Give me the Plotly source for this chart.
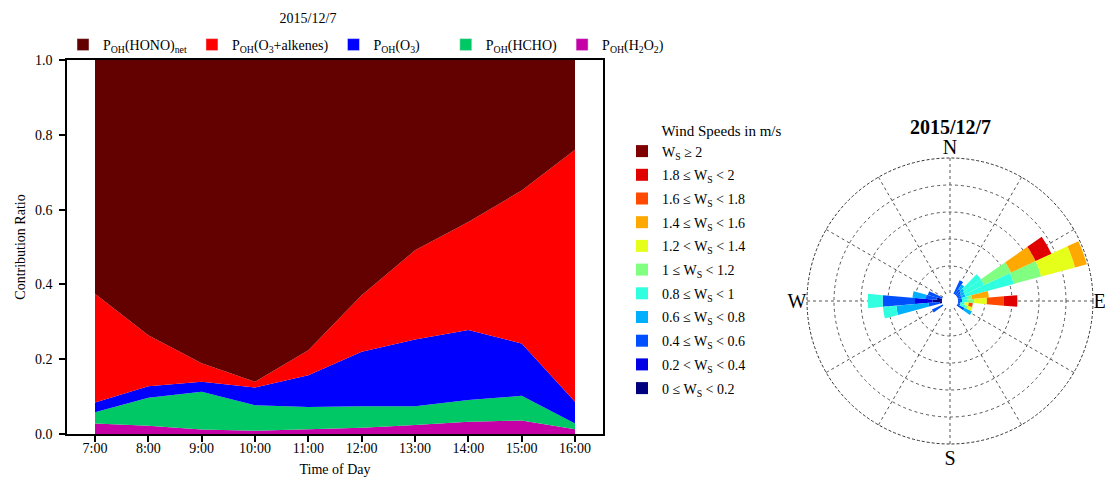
import plotly.graph_objects as go

# ---------------- Area chart data ----------------
hours = ["7:00", "8:00", "9:00", "10:00", "11:00", "12:00", "13:00", "14:00", "15:00", "16:00"]
p_h2o2 = [0.028, 0.022, 0.012, 0.009, 0.013, 0.017, 0.024, 0.033, 0.036, 0.013]
p_hcho = [0.030, 0.075, 0.101, 0.068, 0.059, 0.057, 0.050, 0.058, 0.066, 0.015]
p_o3 = [0.026, 0.031, 0.027, 0.047, 0.085, 0.146, 0.179, 0.187, 0.140, 0.058]
p_o3_alkenes = [0.291, 0.136, 0.049, 0.016, 0.067, 0.151, 0.238, 0.289, 0.409, 0.674]
p_hono = [0.625, 0.736, 0.811, 0.860, 0.776, 0.629, 0.509, 0.433, 0.349, 0.240]

NB = "\u00a0"
area_names = ["P<sub>OH</sub>(H<sub>2</sub>O<sub>2</sub>)", "P<sub>OH</sub>(HCHO)",
              "P<sub>OH</sub>(O<sub>3</sub>)" + NB * 6, "P<sub>OH</sub>(O<sub>3</sub>+alkenes)",
              "P<sub>OH</sub>(HONO)<sub>net</sub>"]
area_colors = ["#C400A6", "#00C864", "#0000FF", "#FF0000", "#630000"]

# ---------------- Wind rose data ----------------
directions = [30, 40, 50, 60, 70, 80, 90, 100, 110, 120, 240, 260, 270, 280, 290]
ws_0_02 = [0, 0, 0, 0, 0, 0, 0, 0, 0, 0, 0, 0.10, 0.35, 0.20, 0]
ws_02_04 = [0, 0, 0, 0, 0, 0, 0, 0, 0, 0, 0, 0, 0.65, 0, 0]
ws_04_06 = [0.55, 0.25, 0.20, 0.15, 0.15, 0.15, 0.15, 0.10, 0.10, 0.30, 0.44, 0.40, 1.20, 0.40, 0.55]
ws_06_08 = [0, 0.20, 0.15, 0.15, 0.15, 0, 0, 0, 0, 0.30, 0, 1.20, 0, 0.50, 0]
ws_08_1 = [0, 0, 0.75, 0.80, 1.85, 0.20, 0.20, 0.15, 0.20, 0, 0, 0.50, 0.55, 0, 0]
ws_1_12 = [0, 0, 0, 1.10, 1.05, 0.17, 0.25, 0, 0.10, 0, 0, 0, 0, 0, 0]
ws_12_14 = [0, 0, 0, 0, 1.30, 0, 0.47, 0.15, 0.17, 0, 0, 0, 0, 0, 0]
ws_14_16 = [0, 0, 0, 1.00, 0.45, 0.63, 0, 0, 0, 0, 0, 0, 0, 0, 0]
ws_16_18 = [0, 0, 0, 0, 0, 0, 0.63, 0.15, 0, 0, 0, 0, 0, 0, 0]
ws_18_2 = [0, 0, 0, 0.65, 0, 0, 0.50, 0, 0, 0, 0, 0, 0, 0, 0]
ws_ge_2 = [0] * 15

ws_bins = [ws_0_02, ws_02_04, ws_04_06, ws_06_08, ws_08_1, ws_1_12,
           ws_12_14, ws_14_16, ws_16_18, ws_18_2, ws_ge_2]
ws_labels = ["0 ≤ W<sub>S</sub> < 0.2", "0.2 < W<sub>S</sub> < 0.4", "0.4 ≤ W<sub>S</sub> < 0.6",
             "0.6 ≤ W<sub>S</sub> < 0.8", "0.8 ≤ W<sub>S</sub> < 1", "1 ≤ W<sub>S</sub> < 1.2",
             "1.2 < W<sub>S</sub> < 1.4", "1.4 ≤ W<sub>S</sub> < 1.6", "1.6 ≤ W<sub>S</sub> < 1.8",
             "1.8 ≤ W<sub>S</sub> < 2", "W<sub>S</sub> ≥ 2"]
ws_colors = ["#00007F", "#0000E6", "#0050FF", "#00B0FF", "#30FFE0", "#80FF80",
             "#E6FF1A", "#FFA800", "#FF4A00", "#E00000", "#7F0000"]

FONT = "Liberation Serif"
W, H = 1113, 482
OFF = 8  # page body margin: figure is drawn 8 px right and down


def px(x):
    return (x - OFF) / W


def py(y):
    return 1 - (y - OFF) / H


fig = go.Figure()

for name, vals, col in zip(area_names, [p_h2o2, p_hcho, p_o3, p_o3_alkenes, p_hono], area_colors):
    fig.add_trace(go.Scatter(x=hours, y=vals, name=name, stackgroup="one", mode="none",
                             fillcolor=col, showlegend=False, hoverinfo="skip"))
    # legend swatch (square) for the area series
    fig.add_trace(go.Bar(x=[None], y=[None], name=name, marker=dict(color=col),
                         legend="legend", showlegend=True))

n_ws = len(ws_bins)
for i, (lab, vals, col) in enumerate(zip(ws_labels, ws_bins, ws_colors)):
    fig.add_trace(go.Barpolar(r=vals, theta=directions, width=[10] * len(directions),
                              name=lab, marker=dict(color=col, line=dict(width=0)),
                              legend="legend2", legendgroup=f"ws{i}", legendrank=100 + n_ws - i,
                              subplot="polar"))

# geometry in page pixels (reference)
fx0, fx1, fy0, fy1 = 67, 603, 60, 434
cx, cy, R = 950, 301, 143

fig.update_layout(
    width=W, height=H,
    margin=dict(l=0, r=0, t=0, b=0, autoexpand=False),
    paper_bgcolor="white", plot_bgcolor="white",
    font=dict(family=FONT, size=14, color="black"),
    title=dict(text="2015/12/7", x=px(308), y=py(18), xanchor="center", yanchor="middle",
               font=dict(family=FONT, size=14)),
    xaxis=dict(domain=[px(fx0), px(fx1)], type="category", range=[-0.525, 9.525],
               showline=True, linecolor="black", linewidth=1.5, mirror=True,
               ticks="outside", ticklen=6, tickcolor="black", tickwidth=1.5,
               ticklabelstandoff=-6,
               showgrid=False, zeroline=False, automargin=False,
               tickfont=dict(size=14), title=dict(text="Time of Day", standoff=10, font=dict(size=14))),
    yaxis=dict(domain=[py(fy1), py(fy0)], range=[0, 1], tickvals=[0, 0.2, 0.4, 0.6, 0.8, 1.0],
               tickformat=".1f", showline=True, linecolor="black", linewidth=1.5, mirror=True,
               ticks="outside", ticklen=6, tickcolor="black", tickwidth=1.5,
               ticklabelstandoff=4,
               showgrid=False, zeroline=False, automargin=False,
               tickfont=dict(size=14), title=dict(text="Contribution Ratio", standoff=6, font=dict(size=14))),
    legend=dict(orientation="h", x=px(63), y=py(45), xanchor="left", yanchor="middle",
                traceorder="reversed", font=dict(size=14), bgcolor="rgba(0,0,0,0)"),
    legend2=dict(x=px(622), y=py(116), xanchor="left", yanchor="top",
                 traceorder="grouped", tracegroupgap=2.5, font=dict(size=14),
                 bgcolor="rgba(0,0,0,0)",
                 title=dict(text=NB * 10 + "Wind Speeds in m/s", side="top", font=dict(size=15))),
    polar=dict(
        domain=dict(x=[px(cx - R), px(cx + R)], y=[py(cy + R), py(cy - R)]),
        bgcolor="white", hole=0.056, barmode="stack",
        radialaxis=dict(range=[0, 5], tickvals=[1, 2, 3, 4], showticklabels=False, ticks="",
                        showline=False, gridcolor="#555555", gridwidth=0.8, griddash="3px,3px"),
        angularaxis=dict(rotation=90, direction="clockwise", tickvals=list(range(0, 360, 30)),
                         ticktext=["N", "", "", "E", "", "", "S", "", "", "W", "", ""],
                         tickfont=dict(family=FONT, size=20), ticks="", showline=False,
                         gridcolor="#555555", gridwidth=0.8, griddash="3px,3px"),
    ),
    # dashed outer ring of the rose, drawn on the polar domain square
    shapes=[dict(type="circle", xref="paper", yref="paper", layer="above",
                 x0=px(cx - R), x1=px(cx + R), y0=py(cy + R), y1=py(cy - R),
                 line=dict(color="#333333", width=1, dash="3px,2px"))],
    annotations=[dict(text="<b>2015/12/7</b>", x=px(cx), y=py(127), xref="paper", yref="paper",
                      showarrow=False, font=dict(family=FONT, size=20), xanchor="center", yanchor="middle")],
)

fig.write_html("out.html")
